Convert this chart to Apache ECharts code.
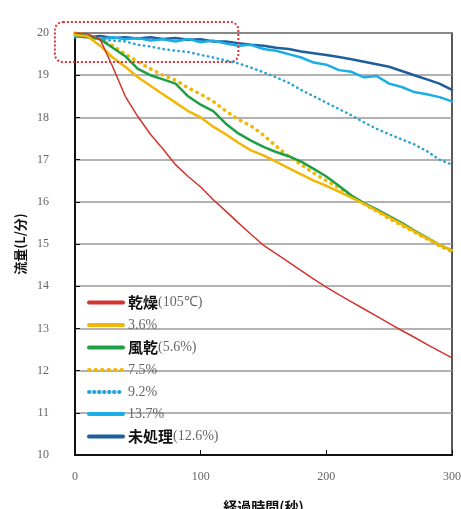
<!DOCTYPE html>
<html lang="ja">
<head>
    <meta charset="UTF-8">
    <title>経過時間と流量</title>
    <script src="https://cdn.jsdelivr.net/npm/echarts@6/dist/echarts.min.js"></script>
    <style>
        html, body { margin: 0; padding: 0; background: #fff; }
    </style>
</head>
<body>
    <div id="main" style="width: 461px;height:509px;"></div>
    <script type="text/javascript">
        // 時間(秒) 0..300 を10秒おき
        var times = [];
        for (var k = 0; k <= 300; k += 10) { times.push(k); }

        var names = ['乾燥(105℃)', '3.6%', '風乾(5.6%)', '7.5%', '9.2%', '13.7%', '未処理(12.6%)'];

        var dry105 = [20.0, 19.98, 19.85, 19.2, 18.5, 18.02, 17.6, 17.25, 16.88, 16.6, 16.35,
            16.05, 15.78, 15.5, 15.23, 14.97, 14.77, 14.57, 14.37, 14.17, 13.98,
            13.8, 13.63, 13.46, 13.29, 13.12, 12.95, 12.79, 12.62, 12.46, 12.3];
        var p36 = [19.95, 19.92, 19.7, 19.42, 19.2, 18.95, 18.75, 18.55, 18.35, 18.15, 18.0,
            17.78, 17.6, 17.4, 17.22, 17.1, 16.95, 16.8, 16.65, 16.5, 16.38,
            16.24, 16.1, 15.95, 15.79, 15.63, 15.47, 15.3, 15.14, 14.98, 14.85];
        var air56 = [19.95, 19.93, 19.85, 19.65, 19.45, 19.15, 19.0, 18.9, 18.8, 18.5, 18.3,
            18.15, 17.85, 17.62, 17.45, 17.3, 17.18, 17.08, 16.95, 16.78, 16.6,
            16.38, 16.15, 15.97, 15.82, 15.66, 15.5, 15.32, 15.15, 14.98, 14.85];
        var p75 = [20.0, 19.95, 19.85, 19.7, 19.5, 19.32, 19.15, 19.0, 18.88, 18.7, 18.55,
            18.38, 18.15, 17.95, 17.8, 17.58, 17.32, 17.08, 16.88, 16.68, 16.5,
            16.33, 16.13, 15.95, 15.78, 15.6, 15.44, 15.28, 15.12, 14.96, 14.82];
        var p92 = [19.98, 19.9, 19.85, 19.82, 19.8, 19.72, 19.68, 19.62, 19.58, 19.55, 19.48,
            19.42, 19.35, 19.28, 19.18, 19.07, 18.95, 18.82, 18.65, 18.5, 18.35,
            18.2, 18.05, 17.88, 17.73, 17.6, 17.48, 17.36, 17.2, 17.0, 16.88];
        var p137 = [19.9, 19.95, 19.85, 19.9, 19.85, 19.88, 19.82, 19.85, 19.8, 19.86, 19.78,
            19.82, 19.75, 19.7, 19.72, 19.62, 19.58, 19.5, 19.42, 19.3, 19.25,
            19.12, 19.08, 18.95, 18.98, 18.8, 18.72, 18.6, 18.55, 18.48, 18.38];
        var untreated = [19.92, 19.9, 19.93, 19.88, 19.9, 19.87, 19.9, 19.86, 19.88, 19.84, 19.85,
            19.8, 19.8, 19.76, 19.72, 19.7, 19.65, 19.62, 19.56, 19.52, 19.48,
            19.43, 19.38, 19.32, 19.26, 19.2, 19.1, 19.0, 18.9, 18.8, 18.65];

        var allData = [dry105, p36, air56, p75, p92, p137, untreated];
        var colors = ['#d2342e', '#f2b705', '#1e9e45', '#f2b705', '#2aa4d8', '#1aaee6', '#1f5e9c'];
        var types = ['solid', 'solid', 'solid', [0.5, 6], [0.5, 4.5], 'solid', 'solid'];
        var widths = [1.5, 2.5, 2.5, 3.5, 2.5, 2.5, 2.5];

        var pairs = function(arr) {
            return arr.map(function(v, i) { return [times[i], v]; });
        };

        var series = [];
        for (var i = 0; i < names.length; i++) {
            series.push({
                name: names[i],
                type: 'line',
                symbol: 'none',
                color: colors[i],
                lineStyle: { color: colors[i], width: widths[i], type: types[i], cap: 'round' },
                data: pairs(allData[i]),
                z: 10 - i
            });
        }

        var myChart = echarts.init(document.getElementById('main'));

        var option = {
            animation: false,
            grid: {
                left: 75, right: 9, top: 33, bottom: 54,
                outerBoundsMode: 'none',
                show: true, borderColor: '#222', borderWidth: 1.5
            },
            legend: {
                orient: 'vertical',
                left: 82,
                top: 290,
                itemWidth: 34,
                itemHeight: 14,
                itemGap: 8,
                itemStyle: { opacity: 0, borderWidth: 0 },
                lineStyle: { width: 4 },
                formatter: function(name) {
                    var m = name.match(/^([^(\d]+)(.*)$/);
                    if (m) { return '{b|' + m[1] + '}{n|' + m[2] + '}'; }
                    return '{n|' + name + '}';
                },
                textStyle: {
                    rich: {
                        b: { fontFamily: 'Noto Sans CJK JP', fontWeight: 'bold', fontSize: 15, color: '#111' },
                        n: { fontFamily: 'Liberation Serif', fontSize: 14, color: '#666' }
                    }
                }
            },
            xAxis: {
                type: 'value',
                min: 0, max: 300, interval: 100,
                name: '経過時間(秒)',
                nameLocation: 'middle',
                nameGap: 45,
                nameTextStyle: { fontFamily: 'Noto Sans CJK JP', fontWeight: 'bold', fontSize: 14, color: '#111' },
                axisLine: { lineStyle: { color: '#111', width: 2 } },
                axisTick: { inside: true, length: 5, lineStyle: { color: '#111' } },
                axisLabel: { margin: 16, fontFamily: 'Liberation Serif', fontSize: 12, color: '#666' },
                splitLine: { show: false }
            },
            yAxis: {
                type: 'value',
                min: 10, max: 20, interval: 1,
                name: '流量(L/分)',
                nameLocation: 'middle',
                nameGap: 44,
                nameRotate: 90,
                nameTextStyle: { fontFamily: 'Noto Sans CJK JP', fontWeight: 'bold', fontSize: 13, color: '#111' },
                axisLine: { lineStyle: { color: '#111', width: 2 } },
                axisTick: { inside: true, length: 5, lineStyle: { color: '#111' } },
                axisLabel: { margin: 26, fontFamily: 'Liberation Serif', fontSize: 12, color: '#666' },
                splitLine: { lineStyle: { color: '#999', width: 1.5 } }
            },
            series: series
        };

        myChart.setOption(option);

        // 左上の赤い点線枠（注目範囲）
        var p0 = myChart.convertToPixel({ gridIndex: 0 }, [-16, 20.26]);
        var p1 = myChart.convertToPixel({ gridIndex: 0 }, [130, 19.31]);
        myChart.setOption({
            graphic: [{
                type: 'rect',
                z: 100,
                shape: { x: p0[0], y: p0[1], width: p1[0] - p0[0], height: p1[1] - p0[1], r: 8 },
                style: { fill: 'none', stroke: '#e0303a', lineWidth: 2, lineDash: [2, 2] }
            }]
        });
    </script>
</body>
</html>
